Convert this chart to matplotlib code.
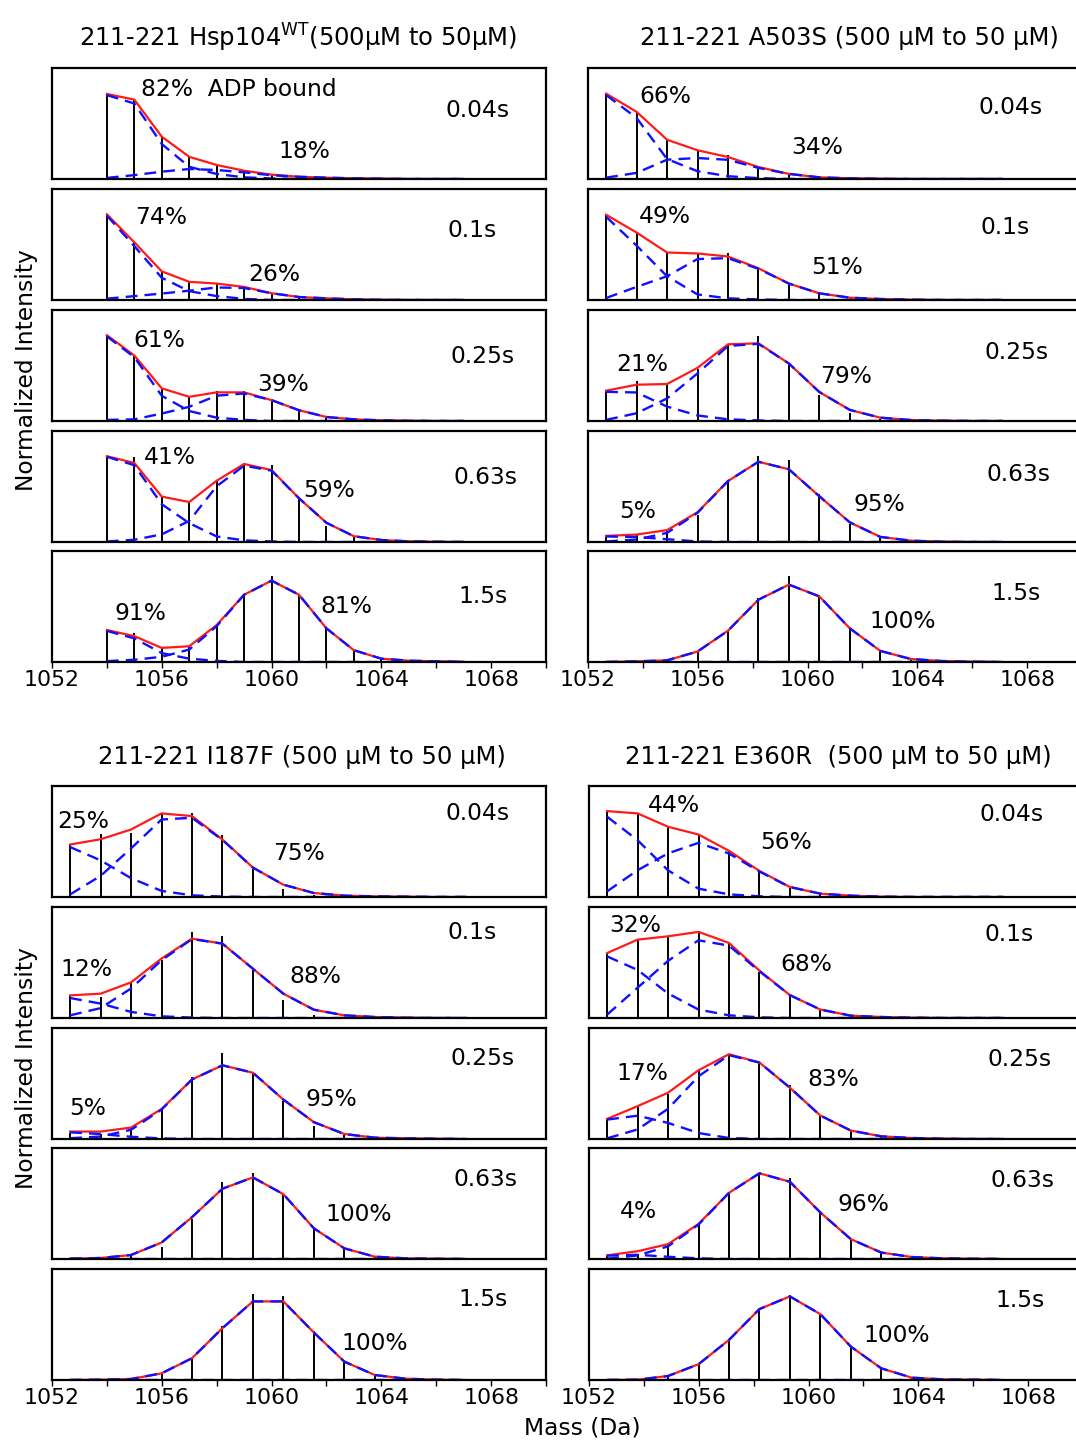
import numpy as np
import matplotlib.pyplot as plt

plt.rcParams["font.family"] = ["DejaVu Sans"]

W, H = 1076, 1441
FS = 16.8      # panel annotations
FS_TICK = 15.8
FS_TITLE = 17.5

# isotope peak positions (Da) as drawn; WT panels use integer masses
mass_wt = [1054, 1055, 1056, 1057, 1058, 1059, 1060, 1061, 1062, 1063, 1064, 1065, 1066, 1067]
mass_mut = [1052.66, 1053.77, 1054.88, 1055.99, 1057.10, 1058.21, 1059.32,
            1060.43, 1061.54, 1062.65, 1063.76, 1064.87, 1065.98, 1067.09]

times = ["0.04s", "0.1s", "0.25s", "0.63s", "1.5s"]

# ---- Hsp104 WT ----
wt_sticks = [
    [0.766, 0.715, 0.381, 0.201, 0.13, 0.08, 0.045, 0.022, 0.012, 0.006, 0, 0, 0, 0],
    [0.773, 0.52, 0.258, 0.164, 0.15, 0.125, 0.065, 0.03, 0.015, 0.006, 0, 0, 0, 0],
    [0.773, 0.59, 0.294, 0.22, 0.27, 0.267, 0.197, 0.106, 0.036, 0.015, 0.005, 0, 0, 0],
    [0.773, 0.77, 0.409, 0.361, 0.55, 0.71, 0.697, 0.39, 0.148, 0.05, 0.015, 0, 0, 0],
    [0.29, 0.264, 0.127, 0.142, 0.333, 0.606, 0.773, 0.606, 0.303, 0.1, 0.03, 0.012, 0, 0],
]
wt_bound = [
    [0.756, 0.68, 0.315, 0.11, 0.045, 0.015, 0.005, 0, 0, 0, 0, 0, 0, 0],
    [0.76, 0.485, 0.2, 0.08, 0.035, 0.01, 0, 0, 0, 0, 0, 0, 0, 0],
    [0.763, 0.575, 0.227, 0.09, 0.03, 0.01, 0, 0, 0, 0, 0, 0, 0, 0],
    [0.768, 0.692, 0.34, 0.17, 0.05, 0.015, 0.005, 0, 0, 0, 0, 0, 0, 0],
    [0.28, 0.213, 0.08, 0.03, 0.01, 0, 0, 0, 0, 0, 0, 0, 0, 0],
]
wt_free = [
    [0.01, 0.035, 0.066, 0.09, 0.081, 0.06, 0.034, 0.02, 0.012, 0.006, 0.003, 0, 0, 0],
    [0.012, 0.035, 0.058, 0.084, 0.113, 0.108, 0.061, 0.027, 0.015, 0.006, 0.002, 0, 0, 0],
    [0.01, 0.015, 0.067, 0.128, 0.228, 0.248, 0.188, 0.097, 0.036, 0.015, 0.006, 0.002, 0, 0],
    [0.005, 0.02, 0.069, 0.19, 0.502, 0.688, 0.643, 0.394, 0.173, 0.052, 0.018, 0.006, 0.002, 0],
    [0.008, 0.02, 0.047, 0.112, 0.323, 0.606, 0.733, 0.606, 0.303, 0.106, 0.03, 0.012, 0.006, 0.002],
]
wt_pct = [("82%  ADP bound", "18%"), ("74%", "26%"), ("61%", "39%"), ("41%", "59%"), ("91%", "81%")]

# ---- A503S ----
a503_sticks = [
    [0.771, 0.604, 0.354, 0.259, 0.213, 0.107, 0.046, 0.015, 0.006, 0, 0, 0, 0, 0],
    [0.768, 0.608, 0.428, 0.419, 0.419, 0.29, 0.148, 0.06, 0.021, 0.009, 0, 0, 0, 0],
    [0.273, 0.358, 0.333, 0.464, 0.69, 0.764, 0.509, 0.236, 0.07, 0.02, 0, 0, 0, 0],
    [0.055, 0.067, 0.107, 0.244, 0.549, 0.777, 0.738, 0.433, 0.159, 0.046, 0.01, 0, 0, 0],
    [0, 0.006, 0.015, 0.094, 0.282, 0.576, 0.773, 0.606, 0.303, 0.1, 0.027, 0, 0, 0],
]
a503_bound = [
    [0.757, 0.55, 0.18, 0.07, 0.025, 0.008, 0, 0, 0, 0, 0, 0, 0, 0],
    [0.75, 0.49, 0.214, 0.05, 0.015, 0.005, 0, 0, 0, 0, 0, 0, 0, 0],
    [0.263, 0.257, 0.13, 0.05, 0.015, 0.005, 0, 0, 0, 0, 0, 0, 0, 0],
    [0.05, 0.045, 0.025, 0.005, 0, 0, 0, 0, 0, 0, 0, 0, 0, 0],
    [0, 0, 0, 0, 0, 0, 0, 0, 0, 0, 0, 0, 0, 0],
]
a503_free = [
    [0.012, 0.055, 0.174, 0.189, 0.173, 0.1, 0.046, 0.015, 0.006, 0.002, 0, 0, 0, 0],
    [0.018, 0.118, 0.214, 0.369, 0.377, 0.281, 0.148, 0.06, 0.021, 0.009, 0.003, 0, 0, 0],
    [0.01, 0.07, 0.203, 0.429, 0.676, 0.695, 0.518, 0.261, 0.1, 0.03, 0.009, 0.003, 0, 0],
    [0.005, 0.022, 0.082, 0.263, 0.549, 0.723, 0.655, 0.412, 0.177, 0.046, 0.012, 0.003, 0, 0],
    [0, 0.006, 0.015, 0.094, 0.282, 0.561, 0.697, 0.591, 0.303, 0.1, 0.027, 0.009, 0.003, 0],
]
a503_pct = [("66%", "34%"), ("49%", "51%"), ("21%", "79%"), ("5%", "95%"), ("", "100%")]

# ---- I187F ----
i187_sticks = [
    [0.467, 0.572, 0.578, 0.753, 0.753, 0.557, 0.256, 0.075, 0.02, 0.005, 0.012, 0.012, 0, 0],
    [0.204, 0.19, 0.315, 0.52, 0.775, 0.736, 0.43, 0.159, 0.03, 0.005, 0, 0, 0, 0],
    [0.058, 0.042, 0.1, 0.264, 0.558, 0.776, 0.606, 0.339, 0.118, 0.036, 0.006, 0, 0, 0],
    [0, 0.005, 0.027, 0.111, 0.358, 0.69, 0.774, 0.584, 0.277, 0.096, 0.015, 0, 0, 0],
    [0, 0, 0.006, 0.054, 0.196, 0.482, 0.777, 0.753, 0.437, 0.166, 0.036, 0, 0, 0],
]
i187_bound = [
    [0.45, 0.33, 0.17, 0.055, 0.015, 0.004, 0, 0, 0, 0, 0, 0, 0, 0],
    [0.18, 0.13, 0.055, 0.015, 0.004, 0, 0, 0, 0, 0, 0, 0, 0, 0],
    [0.06, 0.045, 0.02, 0.005, 0, 0, 0, 0, 0, 0, 0, 0, 0, 0],
    [0, 0, 0, 0, 0, 0, 0, 0, 0, 0, 0, 0, 0, 0],
    [0, 0, 0, 0, 0, 0, 0, 0, 0, 0, 0, 0, 0, 0],
]
i187_free = [
    [0.023, 0.19, 0.438, 0.698, 0.714, 0.514, 0.265, 0.111, 0.036, 0.012, 0.006, 0.003, 0, 0],
    [0.024, 0.089, 0.266, 0.52, 0.711, 0.67, 0.444, 0.219, 0.075, 0.024, 0.009, 0.003, 0, 0],
    [0.007, 0.022, 0.083, 0.265, 0.536, 0.664, 0.597, 0.355, 0.152, 0.045, 0.012, 0.006, 0.002, 0],
    [0.003, 0.009, 0.036, 0.148, 0.377, 0.633, 0.735, 0.584, 0.277, 0.096, 0.021, 0.006, 0.002, 0],
    [0, 0.003, 0.009, 0.06, 0.196, 0.467, 0.708, 0.708, 0.428, 0.166, 0.045, 0.012, 0.003, 0],
]
i187_pct = [("25%", "75%"), ("12%", "88%"), ("5%", "95%"), ("", "100%"), ("", "100%")]

# ---- E360R ----
e360_sticks = [
    [0.774, 0.753, 0.633, 0.563, 0.42, 0.235, 0.084, 0.03, 0.012, 0, 0, 0, 0, 0],
    [0.585, 0.706, 0.736, 0.782, 0.676, 0.418, 0.206, 0.076, 0.03, 0.009, 0, 0, 0, 0],
    [0.181, 0.287, 0.408, 0.613, 0.764, 0.689, 0.483, 0.211, 0.069, 0.024, 0, 0, 0, 0],
    [0.033, 0.049, 0.125, 0.316, 0.596, 0.772, 0.726, 0.419, 0.179, 0.058, 0.015, 0, 0, 0],
    [0, 0.003, 0.036, 0.142, 0.355, 0.639, 0.768, 0.593, 0.286, 0.105, 0.024, 0, 0, 0],
]
e360_bound = [
    [0.723, 0.512, 0.24, 0.075, 0.024, 0.006, 0, 0, 0, 0, 0, 0, 0, 0],
    [0.555, 0.433, 0.221, 0.076, 0.024, 0.006, 0, 0, 0, 0, 0, 0, 0, 0],
    [0.175, 0.21, 0.145, 0.054, 0.009, 0, 0, 0, 0, 0, 0, 0, 0, 0],
    [0.03, 0.038, 0.02, 0.006, 0, 0, 0, 0, 0, 0, 0, 0, 0, 0],
    [0, 0, 0, 0, 0, 0, 0, 0, 0, 0, 0, 0, 0, 0],
]
e360_free = [
    [0.051, 0.241, 0.393, 0.488, 0.392, 0.229, 0.09, 0.03, 0.012, 0.003, 0, 0, 0, 0],
    [0.03, 0.273, 0.515, 0.7, 0.652, 0.421, 0.206, 0.076, 0.021, 0.009, 0.003, 0, 0, 0],
    [0.006, 0.086, 0.272, 0.565, 0.755, 0.689, 0.462, 0.211, 0.076, 0.024, 0.009, 0.003, 0, 0],
    [0.003, 0.032, 0.114, 0.31, 0.596, 0.772, 0.696, 0.419, 0.179, 0.058, 0.018, 0.006, 0.002, 0],
    [0, 0.003, 0.036, 0.142, 0.361, 0.639, 0.753, 0.593, 0.301, 0.105, 0.021, 0.006, 0.003, 0],
]
e360_pct = [("44%", "56%"), ("32%", "68%"), ("17%", "83%"), ("4%", "96%"), ("", "100%")]

# label placement (mass, height) per panel: (bound label, free label, time label)
pos_wt = [((1055.24, 0.805), (1061.18, 0.244), (1067.5, 0.615)),
          ((1055.97, 0.742), (1060.09, 0.226), (1067.3, 0.624)),
          ((1055.90, 0.724), (1060.42, 0.326), (1067.7, 0.579)),
          ((1056.30, 0.760), (1062.09, 0.462), (1067.8, 0.579)),
          ((1055.24, 0.434), (1062.71, 0.498), (1067.7, 0.588))]
pos_a503 = [((1054.81, 0.742), (1060.35, 0.281), (1067.4, 0.643)),
            ((1054.81, 0.751), (1061.07, 0.290), (1067.2, 0.652)),
            ((1053.97, 0.507), (1061.40, 0.398), (1067.6, 0.615)),
            ((1053.79, 0.271), (1062.60, 0.335), (1067.7, 0.606)),
            ((1053.79, 0.271), (1063.48, 0.362), (1067.6, 0.615))]
pos_i187 = [((1053.13, 0.679), (1061.00, 0.389), (1067.5, 0.751)),
            ((1053.24, 0.434), (1061.58, 0.371), (1067.3, 0.769)),
            ((1053.28, 0.271), (1062.17, 0.353), (1067.7, 0.724)),
            ((1053.28, 0.271), (1063.19, 0.398), (1067.8, 0.715)),
            ((1053.28, 0.271), (1063.77, 0.326), (1067.7, 0.724))]
pos_e360 = [((1055.10, 0.824), (1059.18, 0.489), (1067.4, 0.742)),
            ((1053.68, 0.834), (1059.91, 0.480), (1067.3, 0.751)),
            ((1053.93, 0.588), (1060.89, 0.534), (1067.7, 0.715)),
            ((1053.79, 0.425), (1061.99, 0.489), (1067.8, 0.706)),
            ((1053.79, 0.425), (1063.22, 0.398), (1067.7, 0.715))]

fig = plt.figure(figsize=(W / 100, H / 100), dpi=100)


def draw_group(left, tops, masses, sticks, bound, free, pct, pos):
    for i in range(5):
        ax = fig.add_axes([left / W, 1 - (tops[i] + 111) / H, 494 / W, 111 / H])
        total = np.array(bound[i]) + np.array(free[i])
        ax.vlines(masses, 0, sticks[i], color="black", lw=1.4, zorder=1.5)
        ax.plot(masses, total, color="#ff1a1a", lw=1.6, zorder=2)
        ax.plot(masses, bound[i], color="#1010ff", lw=1.7, ls=(0, (5, 3)), zorder=2.2)
        ax.plot(masses, free[i], color="#1010ff", lw=1.7, ls=(0, (5, 3)), zorder=2.2)
        ax.set_xlim(1052, 1070)
        ax.set_ylim(0, 1)
        ax.set_yticks([])
        for s in ax.spines.values():
            s.set_linewidth(1.6)

        b_lab, f_lab = pct[i]
        pb, pf, pt = pos[i]
        if b_lab.startswith("82%"):
            ax.text(pb[0], pb[1], b_lab, fontsize=FS, ha="left", va="center")
        elif b_lab:
            ax.text(pb[0], pb[1], b_lab, fontsize=FS, ha="center", va="center")
        ax.text(pf[0], pf[1], f_lab, fontsize=FS, ha="center", va="center")
        ax.text(pt[0], pt[1], times[i], fontsize=FS, ha="center", va="center")

        if i == 4:
            ax.set_xticks([1052, 1056, 1060, 1064, 1068])
            ax.set_xticks([1054, 1058, 1062, 1066, 1070], minor=True)
            ax.tick_params(axis="x", which="both", direction="out", length=4,
                           width=1, labelsize=FS_TICK, pad=2)
        else:
            ax.set_xticks([])


top_rows = [68, 189, 310, 431, 551]
bot_rows = [786, 907, 1028, 1148, 1269]
draw_group(52, top_rows, mass_wt, wt_sticks, wt_bound, wt_free, wt_pct, pos_wt)
draw_group(588, top_rows, mass_mut, a503_sticks, a503_bound, a503_free, a503_pct, pos_a503)
draw_group(52, bot_rows, mass_mut, i187_sticks, i187_bound, i187_free, i187_pct, pos_i187)
draw_group(589, bot_rows, mass_mut, e360_sticks, e360_bound, e360_free, e360_pct, pos_e360)

# titles and axis labels
fig.text(298 / W, 1 - 38 / H, r"211-221 Hsp104$^{\mathrm{WT}}$(500μM to 50μM)",
         fontsize=FS_TITLE, ha="center", va="center")
fig.text(849 / W, 1 - 38 / H, "211-221 A503S (500 μM to 50 μM)",
         fontsize=FS_TITLE, ha="center", va="center")
fig.text(302 / W, 1 - 757 / H, "211-221 I187F (500 μM to 50 μM)",
         fontsize=FS_TITLE, ha="center", va="center")
fig.text(838 / W, 1 - 757 / H, "211-221 E360R  (500 μM to 50 μM)",
         fontsize=FS_TITLE, ha="center", va="center")
fig.text(27 / W, 1 - 370 / H, "Normalized Intensity", fontsize=FS,
         rotation=90, ha="center", va="center")
fig.text(27 / W, 1 - 1068 / H, "Normalized Intensity", fontsize=FS,
         rotation=90, ha="center", va="center")
fig.text(582 / W, 1 - 1428 / H, "Mass (Da)", fontsize=FS, ha="center", va="center")

fig.savefig("out.png", dpi=100)
